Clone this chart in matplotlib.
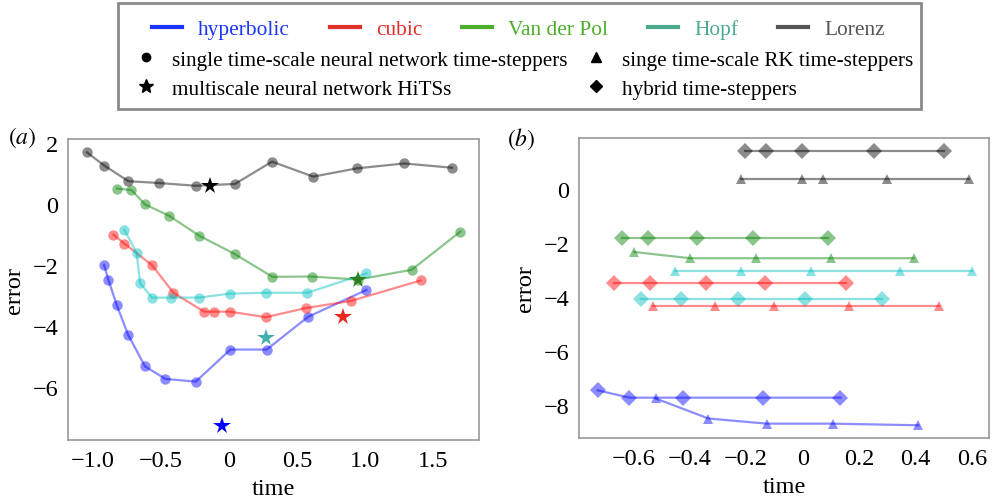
import matplotlib
matplotlib.use("Agg")
import matplotlib.pyplot as plt
from matplotlib.lines import Line2D
from matplotlib.patches import Rectangle

plt.rcParams['font.family'] = ['Liberation Serif', 'DejaVu Serif']
plt.rcParams['mathtext.fontset'] = 'stix'

# ---- panel (a): single time-scale NN time-steppers (circles) + HiTS (stars)
hyp_t = [-0.919, -0.887, -0.826, -0.743, -0.618, -0.468, -0.245, 0.010, 0.277, 0.581, 1.010]
hyp_e = [-1.99, -2.48, -3.30, -4.27, -5.31, -5.72, -5.81, -4.76, -4.76, -3.69, -2.81]
cub_t = [-0.850, -0.770, -0.566, -0.409, -0.184, -0.110, 0.005, 0.272, 0.566, 0.895, 1.409]
cub_e = [-1.00, -1.29, -2.00, -2.90, -3.52, -3.52, -3.52, -3.70, -3.40, -3.17, -2.50]
vdp_t = [-0.824, -0.718, -0.618, -0.441, -0.221, 0.044, 0.319, 0.608, 0.949, 1.343, 1.701]
vdp_e = [0.51, 0.46, -0.01, -0.38, -1.03, -1.64, -2.38, -2.37, -2.47, -2.15, -0.90]
hopf_t = [-0.770, -0.679, -0.654, -0.566, -0.426, -0.223, 0.007, 0.275, 0.576, 1.010]
hopf_e = [-0.84, -1.60, -2.59, -3.06, -3.06, -3.06, -2.93, -2.90, -2.90, -2.27]
lor_t = [-1.044, -0.917, -0.740, -0.517, -0.245, 0.044, 0.316, 0.618, 0.941, 1.287, 1.640]
lor_e = [1.69, 1.26, 0.75, 0.69, 0.60, 0.66, 1.39, 0.90, 1.17, 1.33, 1.19]

star_t = [-0.049, 0.836, 0.95, 0.27, -0.14]
star_e = [-7.26, -3.70, -2.48, -4.39, 0.60]

# ---- panel (b): hybrid (diamonds) and RK (triangles)
hyb_hyp_t = [-0.727, -0.614, -0.423, -0.139, 0.134]
hyb_hyp_e = [-7.45, -7.72, -7.72, -7.72, -7.72]
rk_hyp_t = [-0.521, -0.334, -0.127, 0.107, 0.410]
rk_hyp_e = [-7.75, -8.49, -8.68, -8.68, -8.74]
hyb_cub_t = [-0.669, -0.542, -0.343, -0.133, 0.155]
hyb_cub_e = [-3.50, -3.50, -3.50, -3.50, -3.50]
rk_cub_t = [-0.532, -0.310, -0.103, 0.165, 0.482]
rk_cub_e = [-4.34, -4.34, -4.34, -4.34, -4.34]
hyb_vdp_t = [-0.641, -0.547, -0.373, -0.177, 0.089]
hyb_vdp_e = [-1.81, -1.81, -1.81, -1.81, -1.81]
rk_vdp_t = [-0.597, -0.399, -0.166, 0.100, 0.394]
rk_vdp_e = [-2.34, -2.57, -2.57, -2.57, -2.57]
hyb_hopf_t = [-0.572, -0.432, -0.229, 0.007, 0.281]
hyb_hopf_e = [-4.06, -4.06, -4.06, -4.06, -4.06]
rk_hopf_t = [-0.452, -0.219, 0.030, 0.346, 0.599]
rk_hopf_e = [-3.04, -3.04, -3.04, -3.04, -3.04]
hyb_lor_t = [-0.204, -0.131, -0.004, 0.252, 0.503]
hyb_lor_e = [1.38, 1.38, 1.38, 1.38, 1.38]
rk_lor_t = [-0.219, -0.004, 0.072, 0.299, 0.589]
rk_lor_e = [0.37, 0.37, 0.37, 0.37, 0.37]

systems = ['hyperbolic', 'cubic', 'Van der Pol', 'Hopf', 'Lorenz']
plot_cols = ['blue', 'red', 'green', 'c', 'k']
star_cols = ['blue', '#e8281e', '#2e7d1e', '#3fb0ae', 'black']
leg_cols = ['#1a35ff', '#e0302a', '#4cae2c', '#4aab8e', '#555555']

fig = plt.figure(figsize=(9.93, 5.02), dpi=100)
ax1 = fig.add_axes([0.0685, 0.1215, 0.4139, 0.5996])
ax2 = fig.add_axes([0.5831, 0.1255, 0.4129, 0.5976])

a_t = [hyp_t, cub_t, vdp_t, hopf_t, lor_t]
a_e = [hyp_e, cub_e, vdp_e, hopf_e, lor_e]
for t, e, c in zip(a_t, a_e, plot_cols):
    ax1.plot(t, e, '-o', color=c, alpha=0.45, lw=1.6, ms=7.5, mew=0)
for t, e, c in zip(star_t, star_e, star_cols):
    ax1.plot(t, e, '*', color=c, ms=13, mew=0)

b_hyb = [(hyb_hyp_t, hyb_hyp_e), (hyb_cub_t, hyb_cub_e), (hyb_vdp_t, hyb_vdp_e),
         (hyb_hopf_t, hyb_hopf_e), (hyb_lor_t, hyb_lor_e)]
b_rk = [(rk_hyp_t, rk_hyp_e), (rk_cub_t, rk_cub_e), (rk_vdp_t, rk_vdp_e),
        (rk_hopf_t, rk_hopf_e), (rk_lor_t, rk_lor_e)]
for (t, e), c in zip(b_hyb, plot_cols):
    ax2.plot(t, e, '-D', color=c, alpha=0.45, lw=1.6, ms=8, mew=0)
for (t, e), c in zip(b_rk, plot_cols):
    ax2.plot(t, e, '-^', color=c, alpha=0.45, lw=1.6, ms=7.5, mew=0)

ax1.set_xlim(-1.184, 1.838)
ax1.set_ylim(-7.72, 2.13)
ax1.set_xticks([-1.0, -0.5, 0, 0.5, 1.0, 1.5])
ax1.set_xticklabels(['\u22121.0', '\u22120.5', '0', '0.5', '1.0', '1.5'])
ax1.set_yticks([2, 0, -2, -4, -6])
ax1.set_yticklabels(['2', '0', '\u22122', '\u22124', '\u22126'])

ax2.set_xlim(-0.793, 0.661)
ax2.set_ylim(-9.21, 1.87)
ax2.set_xticks([-0.6, -0.4, -0.2, 0, 0.2, 0.4, 0.6])
ax2.set_xticklabels(['\u22120.6', '\u22120.4', '\u22120.2', '0', '0.2', '0.4', '0.6'])
ax2.set_yticks([0, -2, -4, -6, -8])
ax2.set_yticklabels(['0', '\u22122', '\u22124', '\u22126', '\u22128'])

for ax in (ax1, ax2):
    ax.tick_params(length=0, labelsize=17.5, pad=7)
    for s in ax.spines.values():
        s.set_color('#9a9a9a')
        s.set_linewidth(1.2)
    ax.set_xlabel('time', fontsize=17.5, labelpad=5)
    ax.set_ylabel('error', fontsize=17.5, labelpad=5)

fig.text(0.008, 0.725, r'$(\mathit{a})$', fontsize=17, va='center')
fig.text(0.511, 0.723, r'$(\mathit{b})$', fontsize=17, va='center')

# legend frame
fig.add_artist(Rectangle((0.1188, 0.781), 0.8087, 0.211, transform=fig.transFigure,
                         fill=False, edgecolor='#8a8a8a', lw=2))

h1 = [Line2D([], [], color=c, lw=3) for c in leg_cols]
fig.legend(h1, systems, ncol=5, frameon=False, fontsize=15.4, labelcolor=leg_cols,
           loc='center', bbox_to_anchor=(0.522, 0.940), handlelength=1.4,
           handletextpad=0.75, columnspacing=1.87)

h2 = [Line2D([], [], ls='', marker='o', color='k', ms=6),
      Line2D([], [], ls='', marker='*', color='k', ms=10),
      Line2D([], [], ls='', marker='^', color='k', ms=7),
      Line2D([], [], ls='', marker='D', color='k', ms=6)]
l2 = ['single time-scale neural network time-steppers', 'multiscale neural network HiTSs',
      'singe time-scale RK time-steppers', 'hybrid time-steppers']
fig.legend(h2, l2, ncol=2, frameon=False, fontsize=15.2, loc='center',
           bbox_to_anchor=(0.528, 0.850), handlelength=1.0, handletextpad=0.7,
           columnspacing=0.88, labelspacing=0.45)

fig.savefig('out.png', dpi=100)
